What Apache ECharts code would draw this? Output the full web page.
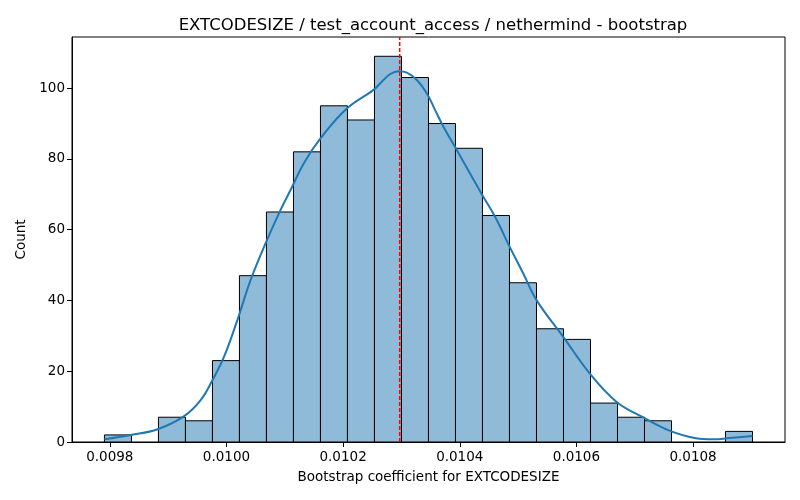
<!DOCTYPE html>
<html>
<head>
<meta charset="utf-8">
<script src="https://cdn.jsdelivr.net/npm/echarts@6/dist/echarts.min.js"></script>
<style>
  html, body { margin: 0; padding: 0; background: #fff; }
  #chart { width: 800px; height: 500px; }
</style>
</head>
<body>
<div id="chart"></div>
<script>
// histogram bins (24 equal-width bins)
const binStart = 0.0097908;
const binWidth = 0.000046296;
const binCounts = [2, 0, 7, 6, 23, 47, 65, 82, 95, 91, 109, 103, 90, 83, 64, 45, 32, 29, 11, 7, 6, 0, 0, 3];

// kde curve
const kdeX = [0.0097908, 0.0098364, 0.0098821, 0.0099275, 0.0099561, 0.0099761, 0.0099959, 0.0100188,
  0.0100415, 0.0100672, 0.0100928, 0.0101099, 0.0101327, 0.0101612, 0.0102068, 0.0102523, 0.0102638,
  0.0102809, 0.010295, 0.0103094, 0.0103265, 0.0103436, 0.0103578, 0.010372, 0.0103949, 0.0104176,
  0.0104403, 0.0104603, 0.010486, 0.0105087, 0.0105316, 0.0105771, 0.0106227, 0.0106684, 0.0107139,
  0.0107595, 0.0108051, 0.0108335, 0.0108677, 0.0109019];
const kdeY = [0.8, 2.0, 3.6, 7.3, 11.9, 17.5, 24.1, 34.5, 45.8, 56.2, 65.6, 71.2, 78.8, 85.8, 94.3, 99.5, 101.4,
  104.0, 104.8, 104.4, 102.3, 98.5, 93.8, 89.1, 82.5, 75.9, 69.3, 63.7, 55.0, 47.7, 40.1, 29.8, 19.4, 11.4,
  7.0, 3.2, 1.05, 0.76, 1.2, 1.7];

const meanLine = 0.010297;
const yTop = 114.45;
const xTicks = [0.0098, 0.0100, 0.0102, 0.0104, 0.0106, 0.0108];

let chart = echarts.init(document.getElementById('chart'));

const binData = binCounts.map(function (c, i) {
  return [binStart + i * binWidth, binStart + (i + 1) * binWidth, c];
});
const kdeData = kdeX.map(function (x, i) { return [x, kdeY[i]]; });

const font = 'DejaVu Sans';

const option = {
  animation: false,
  textStyle: { fontFamily: font },
  title: {
    text: 'EXTCODESIZE / test_account_access / nethermind - bootstrap',
    left: 428,
    textAlign: 'center',
    top: 12,
    textStyle: { fontSize: 16.5, fontWeight: 'normal', color: '#000', fontFamily: font }
  },
  grid: {
    left: 72,
    right: 15,
    top: 37,
    bottom: 58,
    show: true,
    borderColor: '#000',
    borderWidth: 1
  },
  xAxis: {
    type: 'value',
    min: 0.0097352,
    max: 0.0109576,
    name: 'Bootstrap coefficient for EXTCODESIZE',
    nameLocation: 'middle',
    nameGap: 28,
    nameTextStyle: { fontSize: 13.5, color: '#000', fontFamily: font },
    splitLine: { show: false },
    axisLine: { onZero: false, lineStyle: { color: '#000', width: 1 } },
    axisTick: { show: true, length: 5, lineStyle: { color: '#000' }, customValues: xTicks },
    axisLabel: {
      color: '#000',
      fontSize: 13.5,
      margin: 8,
      customValues: xTicks,
      formatter: function (v) { return v.toFixed(4); }
    }
  },
  yAxis: {
    type: 'value',
    min: 0,
    max: yTop,
    interval: 20,
    name: 'Count',
    nameLocation: 'middle',
    nameGap: 43,
    nameTextStyle: { fontSize: 13.5, color: '#000', fontFamily: font },
    splitLine: { show: false },
    axisLine: { show: true, lineStyle: { color: '#000', width: 1 } },
    axisTick: { show: true, length: 5, lineStyle: { color: '#000' } },
    axisLabel: {
      color: '#000',
      fontSize: 13.5,
      margin: 7,
      showMaxLabel: false
    }
  },
  series: [
    {
      type: 'custom',
      data: binData,
      renderItem: function (params, api) {
        const p0 = api.coord([api.value(0), api.value(2)]);
        const p1 = api.coord([api.value(1), 0]);
        if (api.value(2) === 0) return null;
        return {
          type: 'rect',
          shape: { x: p0[0], y: p0[1], width: p1[0] - p0[0], height: p1[1] - p0[1] },
          style: { fill: '#8fbbd9', stroke: '#000', lineWidth: 1 }
        };
      },
      z: 2
    },
    {
      type: 'line',
      data: kdeData,
      smooth: 0.4,
      showSymbol: false,
      lineStyle: { color: '#1f77b4', width: 2 },
      z: 3
    },
    {
      // mean marker
      type: 'line',
      data: [[meanLine, 0], [meanLine, yTop]],
      showSymbol: false,
      lineStyle: { color: '#ff0000', type: [4, 2], width: 1.5 },
      z: 4
    }
  ]
};

chart.setOption(option);
</script>
</body>
</html>
